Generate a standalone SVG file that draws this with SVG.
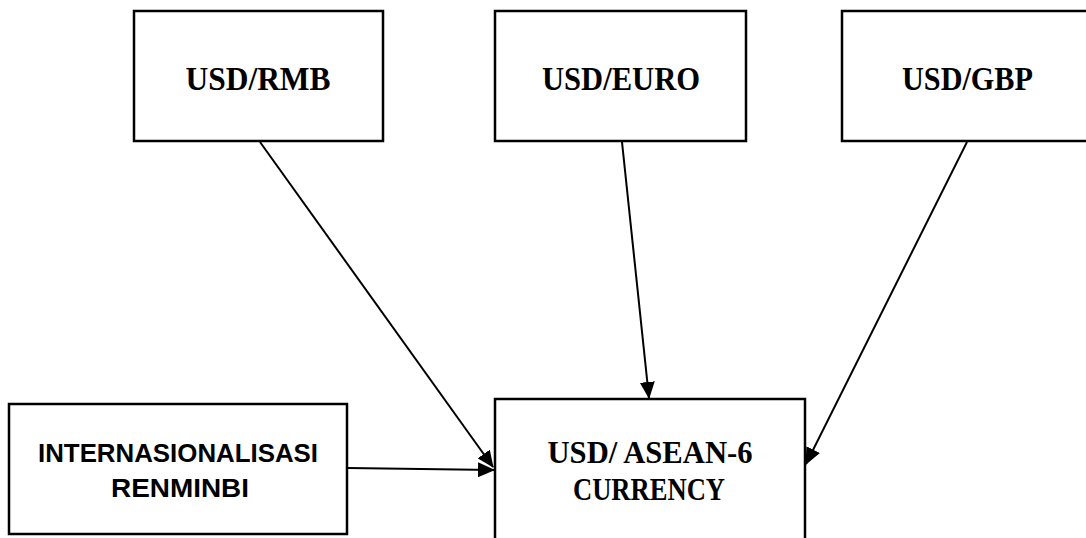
<svg xmlns="http://www.w3.org/2000/svg" width="1086" height="538" viewBox="0 0 1086 538">
<style>
.box{fill:#fff;stroke:#000;stroke-width:2.5}
.ser{font-family:"Liberation Serif","Times New Roman",serif;font-weight:bold;fill:#000;text-anchor:middle}
.san{font-family:"Liberation Sans",Arial,sans-serif;font-weight:bold;fill:#000;text-anchor:middle;font-size:26px}
.conn{stroke:#000;stroke-width:2;fill:none;marker-end:url(#ah)}
</style>
<defs>
<marker id="ah" markerWidth="17" markerHeight="15" refX="16" refY="7.5" orient="auto" markerUnits="userSpaceOnUse">
<path d="M0,0 L17,7.5 L0,15 Z" fill="#000"/>
</marker>
</defs>
<rect width="1086" height="538" fill="#fff"/>
<g id="connectors">
<line class="conn" x1="260" y1="142" x2="493" y2="467"/>
<line class="conn" x1="622" y1="142" x2="649" y2="398"/>
<line class="conn" x1="967" y1="142" x2="806" y2="464"/>
<line class="conn" x1="348" y1="468" x2="494" y2="470"/>
</g>
<g id="usd-rmb">
<rect class="box" x="134" y="11" width="249" height="130"/>
<text class="ser" x="258" y="90" font-size="33" textLength="145" lengthAdjust="spacingAndGlyphs">USD/RMB</text>
</g>
<g id="usd-euro">
<rect class="box" x="495" y="11" width="251" height="130"/>
<text class="ser" x="621" y="90" font-size="33" textLength="158" lengthAdjust="spacingAndGlyphs">USD/EURO</text>
</g>
<g id="usd-gbp">
<rect class="box" x="842" y="11" width="251" height="130"/>
<text class="ser" x="967.5" y="90" font-size="33" textLength="131" lengthAdjust="spacingAndGlyphs">USD/GBP</text>
</g>
<g id="internasionalisasi">
<rect class="box" x="9" y="404" width="338" height="130"/>
<text class="san" x="178" y="462" textLength="280" lengthAdjust="spacingAndGlyphs">INTERNASIONALISASI</text>
<text class="san" x="180" y="497" textLength="138" lengthAdjust="spacingAndGlyphs">RENMINBI</text>
</g>
<g id="usd-asean">
<rect class="box" x="495" y="399" width="310" height="150"/>
<text class="ser" x="650" y="463" font-size="31" textLength="205" lengthAdjust="spacingAndGlyphs">USD/ ASEAN-6</text>
<text class="ser" x="649" y="500" font-size="31" textLength="152" lengthAdjust="spacingAndGlyphs">CURRENCY</text>
</g>
</svg>
